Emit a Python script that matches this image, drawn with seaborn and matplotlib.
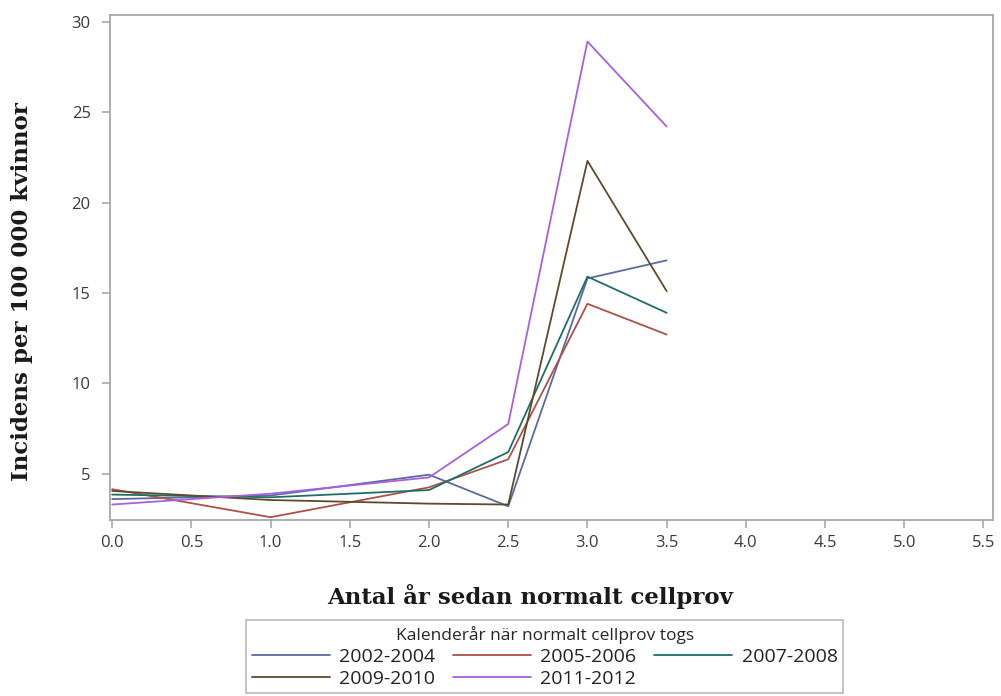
import matplotlib
matplotlib.use("Agg")
import matplotlib.pyplot as plt
import pandas as pd
import seaborn as sns

# Incidence per 100 000 women by years since a normal cell sample
years_since = [0.0, 1.0, 2.0, 2.5, 3.0, 3.5]
period_labels = ["2002-2004", "2005-2006", "2007-2008", "2009-2010", "2011-2012"]
inc_2002_2004 = [3.6, 3.8, 4.95, 3.2, 15.8, 16.8]
inc_2005_2006 = [4.15, 2.6, 4.25, 5.8, 14.4, 12.7]
inc_2007_2008 = [3.85, 3.7, 4.1, 6.2, 15.9, 13.9]
inc_2009_2010 = [4.05, 3.55, 3.35, 3.3, 22.3, 15.1]
inc_2011_2012 = [3.3, 3.9, 4.8, 7.75, 28.9, 24.2]

series = [inc_2002_2004, inc_2005_2006, inc_2007_2008, inc_2009_2010, inc_2011_2012]
rows = []
for label, vals in zip(period_labels, series):
    for x, y in zip(years_since, vals):
        rows.append({"Antal år": x, "Incidens": y, "Period": label})
df = pd.DataFrame(rows)

palette = ["#5a6b9c", "#ad5248", "#1f6f68", "#5e4a2c", "#a660e0"]

sns.set_style("white")
plt.rcParams["font.family"] = ["Open Sans", "DejaVu Sans"]

fig = plt.figure(figsize=(10.01, 6.96), dpi=100)
ax = fig.add_axes([0.110, 0.253, 0.882, 0.725])

sns.lineplot(data=df, x="Antal år", y="Incidens", hue="Period",
             hue_order=period_labels, palette=palette, linewidth=1.3,
             ax=ax, legend=False, estimator=None, sort=True)

ax.set_xlim(-0.013, 5.56)
ax.set_ylim(2.45, 30.35)
ax.set_xticks([i * 0.5 for i in range(12)])
ax.set_xticklabels([f"{i * 0.5:.1f}" for i in range(12)])
ax.set_yticks([5, 10, 15, 20, 25, 30])

for s in ax.spines.values():
    s.set_color("#a8a8a8")
    s.set_linewidth(1.3)
ax.tick_params(axis="both", which="major", direction="out", length=6,
               width=1.2, color="#a8a8a8", labelsize=12, labelcolor="#3a3a3a",
               bottom=True, left=True)
ax.tick_params(axis="y", pad=8)
ax.tick_params(axis="x", pad=5)

serif_bold = dict(family=["DejaVu Serif"], weight="bold",
                  size=16.5, color="#1a1a1a")
ax.set_xlabel("Antal år sedan normalt cellprov", **serif_bold)
ax.set_ylabel("Incidens per 100 000 kvinnor", **serif_bold)
ax.xaxis.set_label_coords(0.476, -0.1527)
ax.xaxis.label.set_va("center")
ax.yaxis.set_label_coords(-0.0997, 0.452)
ax.yaxis.label.set_va("center")

# Legend built from the drawn lines, filled row by row
handles = ax.get_lines()[:len(period_labels)]
order = [0, 3, 1, 4, 2]
leg = fig.legend([handles[i] for i in order], [period_labels[i] for i in order],
                 loc="upper left",
                 bbox_to_anchor=(246 / 1001, 1 - 620 / 696),
                 ncol=3, frameon=True, fancybox=False,
                 title="Kalenderår när normalt cellprov togs",
                 fontsize=14, title_fontsize=12.5,
                 handlelength=4.0, handletextpad=0.5, columnspacing=0.9,
                 borderpad=0.3, borderaxespad=0, labelspacing=0.2,
                 edgecolor="#a8a8a8")
leg.get_frame().set_linewidth(1.2)
for t in leg.get_texts():
    t.set_color("#222222")

fig.savefig("out.png", dpi=100)
